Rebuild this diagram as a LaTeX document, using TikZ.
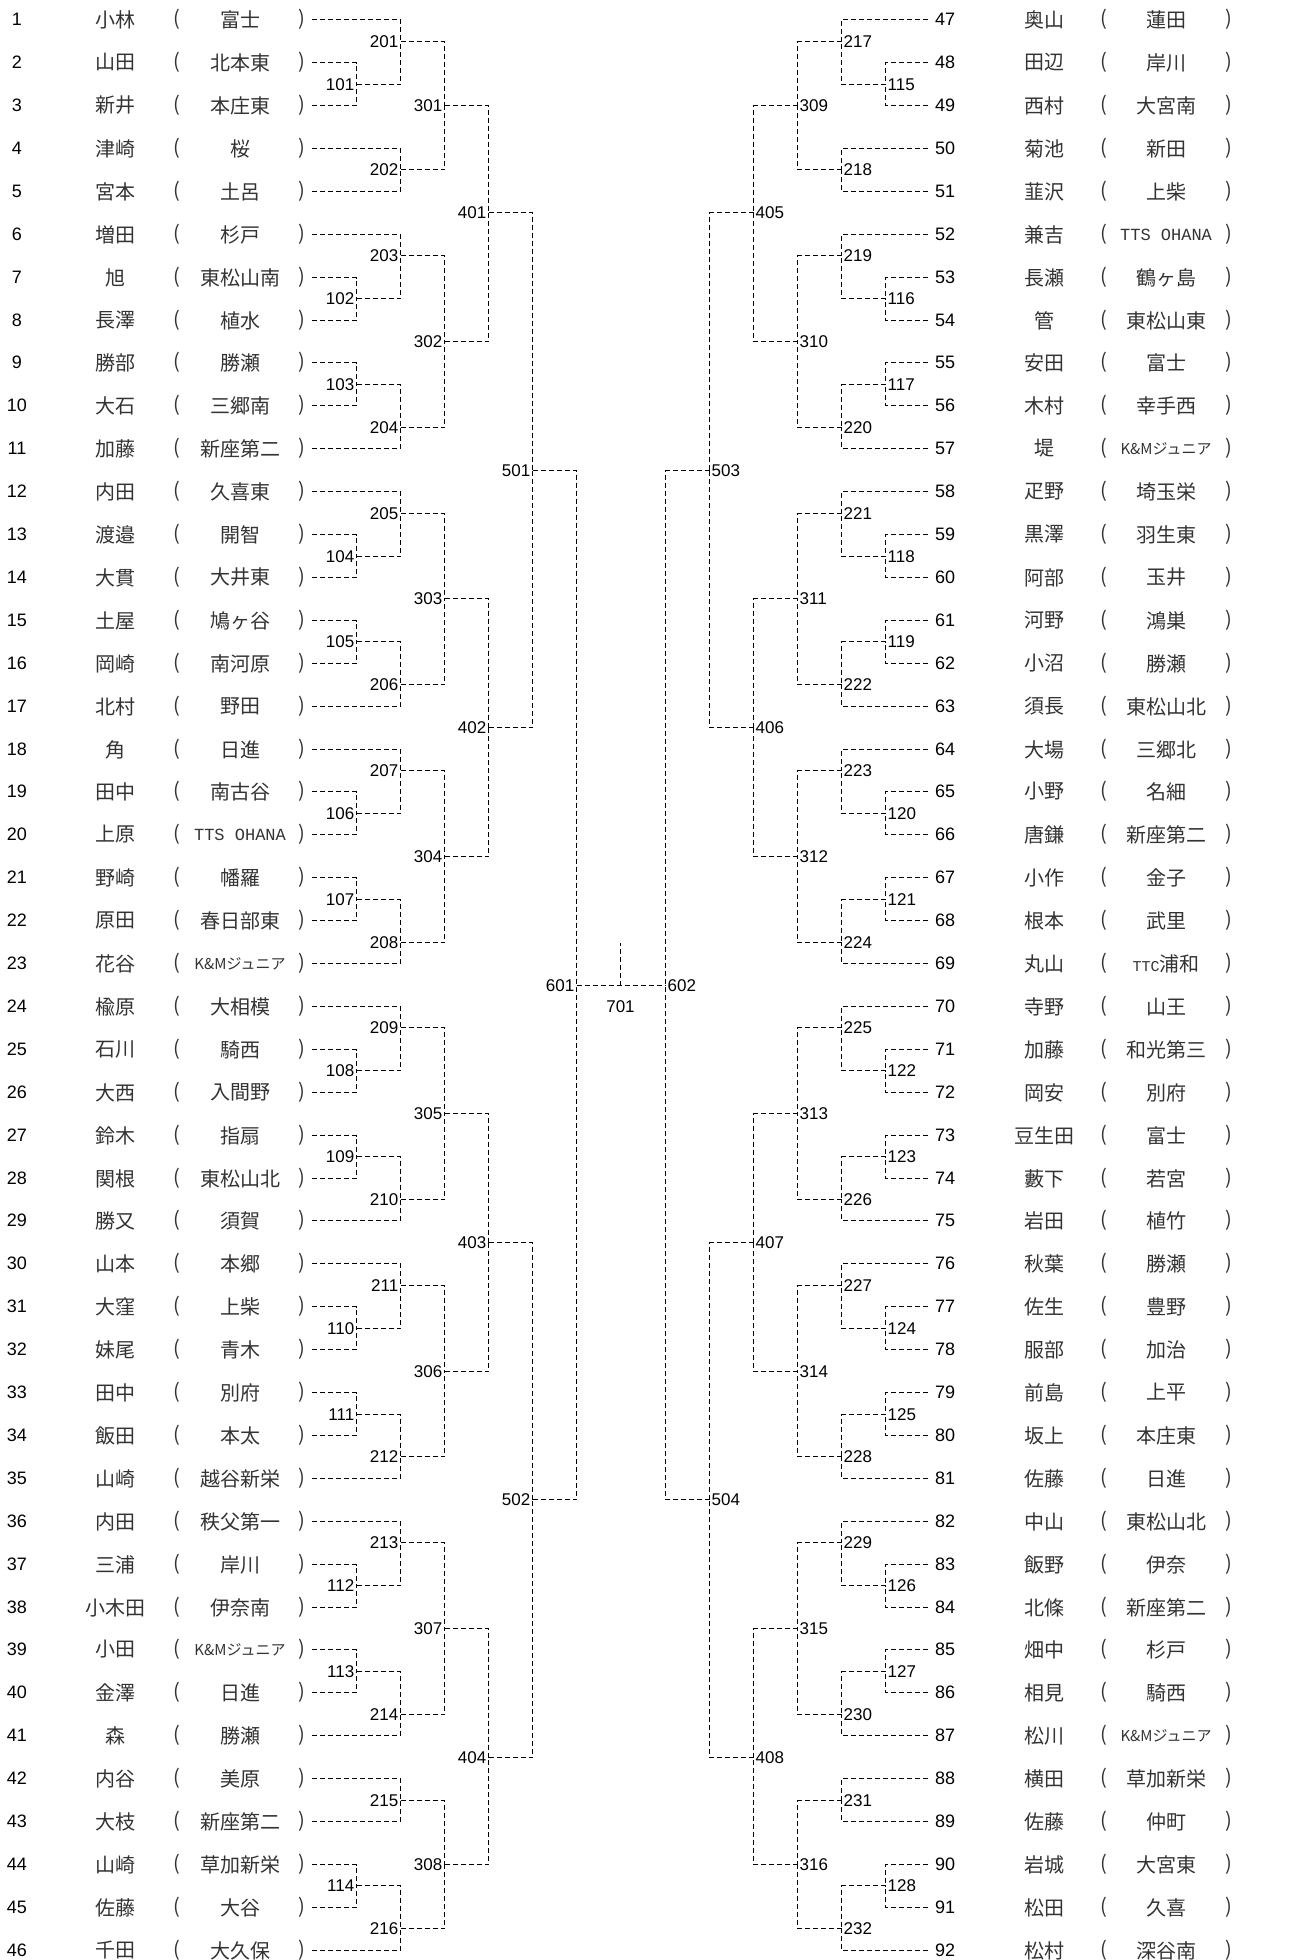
\documentclass[tikz,border=0pt]{standalone}
\usepackage{fontspec}
\setmainfont{Liberation Sans}
\newfontfamily\jpfont{Noto Sans CJK JP}
\newfontfamily\hanfont{Liberation Mono}
\newcommand\km{{\fontsize{15}{15}\selectfont K\&Mジュニア}}
\newcommand\tts{{\hanfont\fontsize{17}{17}\selectfont TTS OHANA}}
\newcommand\ttc{{\hanfont\fontsize{15}{15}\selectfont TTC}浦和}

\tikzset{
  bracket/.style={line width=1.5pt, dash pattern=on 5pt off 3pt},
  entry/.style={font=\fontsize{18}{18}\selectfont, inner sep=0pt},
  jp/.style={font=\jpfont\fontsize{20}{20}\selectfont, text=black!80, inner sep=0pt},
  matchL/.style={font=\fontsize{17}{17}\selectfont, anchor=east, inner sep=2pt},
  matchR/.style={font=\fontsize{17}{17}\selectfont, anchor=west, inner sep=2pt},
}

\begin{document}
\begin{tikzpicture}[x=1pt,y=-1pt]
\useasboundingbox (0,0) rectangle (1289,1960);

% left block
\foreach \row/\nm/\sch in {1/小林/富士, 2/山田/北本東, 3/新井/本庄東, 4/津崎/桜, 5/宮本/土呂,
  6/増田/杉戸, 7/旭/東松山南, 8/長澤/植水, 9/勝部/勝瀬, 10/大石/三郷南, 11/加藤/新座第二,
  12/内田/久喜東, 13/渡邉/開智, 14/大貫/大井東, 15/土屋/鳩ヶ谷, 16/岡崎/南河原, 17/北村/野田,
  18/角/日進, 19/田中/南古谷, 20/上原/\tts, 21/野崎/幡羅, 22/原田/春日部東, 23/花谷/\km,
  24/楡原/大相模, 25/石川/騎西, 26/大西/入間野, 27/鈴木/指扇, 28/関根/東松山北, 29/勝又/須賀,
  30/山本/本郷, 31/大窪/上柴, 32/妹尾/青木, 33/田中/別府, 34/飯田/本太, 35/山崎/越谷新栄,
  36/内田/秩父第一, 37/三浦/岸川, 38/小木田/伊奈南, 39/小田/\km, 40/金澤/日進, 41/森/勝瀬,
  42/内谷/美原, 43/大枝/新座第二, 44/山崎/草加新栄, 45/佐藤/大谷, 46/千田/大久保}{
  \pgfmathsetmacro\yy{round(19.3+(\row-1)*42.9)+0.5}
  \node[entry] (nL\row) at (17,\yy) {\row};
  \node[jp] (aL\row) at (115,\yy) {\nm};
  \node[jp] (oL\row) at (177,\yy) {(};
  \node[jp] (sL\row) at (240,\yy) {\sch};
  \node[jp] (cL\row) at (302,\yy) {)};
  \coordinate (L\row) at (312,\yy);
}

% right block
\foreach \row/\nm/\sch [evaluate=\row as \pno using int(\row+46)] in {1/奥山/蓮田, 2/田辺/岸川,
  3/西村/大宮南, 4/菊池/新田, 5/韮沢/上柴, 6/兼吉/\tts, 7/長瀬/鶴ヶ島, 8/管/東松山東,
  9/安田/富士, 10/木村/幸手西, 11/堤/\km, 12/疋野/埼玉栄, 13/黒澤/羽生東, 14/阿部/玉井,
  15/河野/鴻巣, 16/小沼/勝瀬, 17/須長/東松山北, 18/大場/三郷北, 19/小野/名細, 20/唐鎌/新座第二,
  21/小作/金子, 22/根本/武里, 23/丸山/\ttc, 24/寺野/山王, 25/加藤/和光第三, 26/岡安/別府,
  27/豆生田/富士, 28/藪下/若宮, 29/岩田/植竹, 30/秋葉/勝瀬, 31/佐生/豊野, 32/服部/加治,
  33/前島/上平, 34/坂上/本庄東, 35/佐藤/日進, 36/中山/東松山北, 37/飯野/伊奈, 38/北條/新座第二,
  39/畑中/杉戸, 40/相見/騎西, 41/松川/\km, 42/横田/草加新栄, 43/佐藤/仲町, 44/岩城/大宮東,
  45/松田/久喜, 46/松村/深谷南}{
  \pgfmathsetmacro\yy{round(19.3+(\row-1)*42.9)+0.5}
  \coordinate (R\row) at (928,\yy);
  \node[entry, anchor=west] (nR\row) at (935,\yy) {\pno};
  \node[jp] (aR\row) at (1044,\yy) {\nm};
  \node[jp] (oR\row) at (1104,\yy) {(};
  \node[jp] (sR\row) at (1166,\yy) {\sch};
  \node[jp] (cR\row) at (1229,\yy) {)};
}

% left bracket
\foreach \m/\x/\row/\a/\b in {
  101/356/2.5/L2/L3, 102/356/7.5/L7/L8, 103/356/9.5/L9/L10, 104/356/13.5/L13/L14,
  105/356/15.5/L15/L16, 106/356/19.5/L19/L20, 107/356/21.5/L21/L22, 108/356/25.5/L25/L26,
  109/356/27.5/L27/L28, 110/356/31.5/L31/L32, 111/356/33.5/L33/L34, 112/356/37.5/L37/L38,
  113/356/39.5/L39/L40, 114/356/44.5/L44/L45,
  201/400/1.5/L1/m101, 202/400/4.5/L4/L5, 203/400/6.5/L6/m102, 204/400/10.5/m103/L11,
  205/400/12.5/L12/m104, 206/400/16.5/m105/L17, 207/400/18.5/L18/m106, 208/400/22.5/m107/L23,
  209/400/24.5/L24/m108, 210/400/28.5/m109/L29, 211/400/30.5/L30/m110, 212/400/34.5/m111/L35,
  213/400/36.5/L36/m112, 214/400/40.5/m113/L41, 215/400/42.5/L42/L43, 216/400/45.5/m114/L46,
  301/444/3/m201/m202, 302/444/8.5/m203/m204, 303/444/14.5/m205/m206, 304/444/20.5/m207/m208,
  305/444/26.5/m209/m210, 306/444/32.5/m211/m212, 307/444/38.5/m213/m214, 308/444/44/m215/m216,
  401/488/5.5/m301/m302, 402/488/17.5/m303/m304, 403/488/29.5/m305/m306, 404/488/41.5/m307/m308,
  501/532/11.5/m401/m402, 502/532/35.5/m403/m404,
  601/576/23.5/m501/m502}{
  \pgfmathsetmacro\yy{round(19.3+(\row-1)*42.9)+0.5}
  \coordinate (m\m) at (\x.5,\yy);
  \draw[bracket] (\a) -| (m\m);
  \draw[bracket] (\b) -| (m\m);
  \node[matchL] (t\m) at (m\m) {\m};
}

% right bracket
\foreach \m/\x/\row/\a/\b in {
  115/885/2.5/R2/R3, 116/885/7.5/R7/R8, 117/885/9.5/R9/R10, 118/885/13.5/R13/R14,
  119/885/15.5/R15/R16, 120/885/19.5/R19/R20, 121/885/21.5/R21/R22, 122/885/25.5/R25/R26,
  123/885/27.5/R27/R28, 124/885/31.5/R31/R32, 125/885/33.5/R33/R34, 126/885/37.5/R37/R38,
  127/885/39.5/R39/R40, 128/885/44.5/R44/R45,
  217/841/1.5/R1/m115, 218/841/4.5/R4/R5, 219/841/6.5/R6/m116, 220/841/10.5/m117/R11,
  221/841/12.5/R12/m118, 222/841/16.5/m119/R17, 223/841/18.5/R18/m120, 224/841/22.5/m121/R23,
  225/841/24.5/R24/m122, 226/841/28.5/m123/R29, 227/841/30.5/R30/m124, 228/841/34.5/m125/R35,
  229/841/36.5/R36/m126, 230/841/40.5/m127/R41, 231/841/42.5/R42/R43, 232/841/45.5/m128/R46,
  309/797/3/m217/m218, 310/797/8.5/m219/m220, 311/797/14.5/m221/m222, 312/797/20.5/m223/m224,
  313/797/26.5/m225/m226, 314/797/32.5/m227/m228, 315/797/38.5/m229/m230, 316/797/44/m231/m232,
  405/753/5.5/m309/m310, 406/753/17.5/m311/m312, 407/753/29.5/m313/m314, 408/753/41.5/m315/m316,
  503/709/11.5/m405/m406, 504/709/35.5/m407/m408,
  602/665/23.5/m503/m504}{
  \pgfmathsetmacro\yy{round(19.3+(\row-1)*42.9)+0.5}
  \coordinate (m\m) at (\x.5,\yy);
  \draw[bracket] (\a) -| (m\m);
  \draw[bracket] (\b) -| (m\m);
  \node[matchR] (t\m) at (m\m) {\m};
}

% final
\coordinate (m701) at (620.5,985.5);
\coordinate (top701) at (620.5,942.5);
\draw[bracket] (m601) -- (m602);
\draw[bracket] (m701) -- (top701);
\node[font=\fontsize{17}{17}\selectfont, inner sep=0pt] (t701) at ([yshift=-21pt]m701) {701};
\end{tikzpicture}
\end{document}
